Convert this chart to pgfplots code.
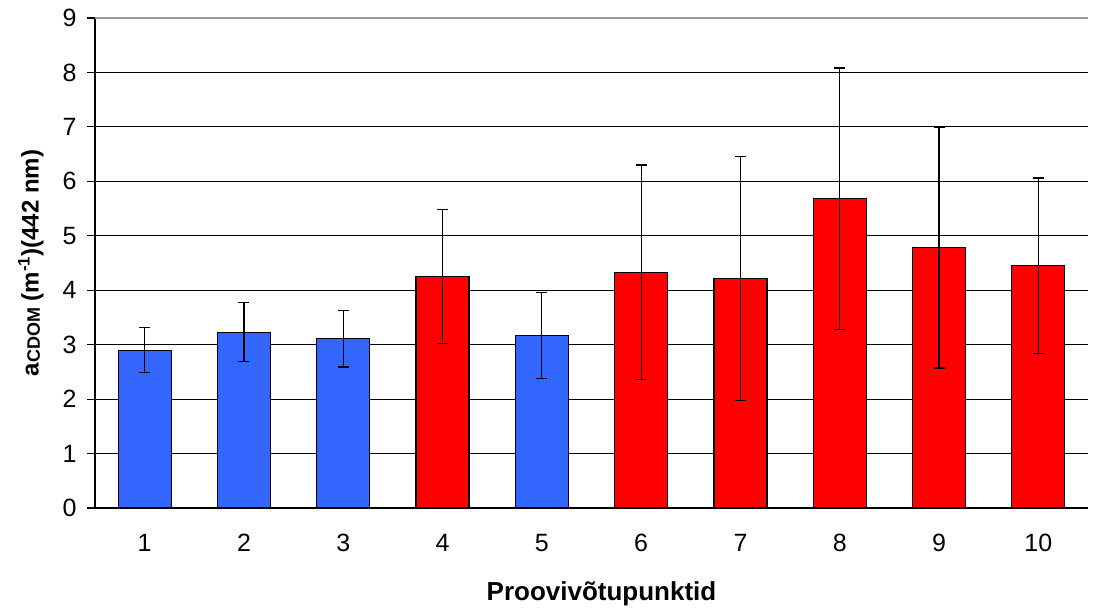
\documentclass[border=0pt]{standalone}
\usepackage{pgfplots}
\pgfplotsset{compat=1.18}
\usepackage{fontspec}
\setmainfont{Liberation Sans}
\definecolor{barblue}{HTML}{3366FF}
\definecolor{barred}{HTML}{FF0000}
\begin{document}
\begin{tikzpicture}
\begin{axis}[
  name=ax,
  scale only axis,
  width=993pt, height=490pt,
  xmin=0.5, xmax=10.5,
  ymin=0, ymax=9,
  ytick={0,1,...,9},
  xtick={1,...,10},
  xticklabels={1,2,3,4,5,6,7,8,9,10},
  axis x line=bottom, axis y line=left,
  axis line style={-, line width=1.2pt, black},
  major x tick style={draw=none},
  extra x ticks={0.5,1.5,...,10.5},
  extra x tick labels={},
  extra x tick style={major tick length=9pt, tick align=outside, tick style={line width=1.2pt, black}, grid=none},
  ytick style={line width=1.2pt, black},
  major tick length=8pt,
  tick align=outside,
  ymajorgrids,
  grid style={line width=1.2pt, black},
  /pgf/number format/assume math mode=true,
  tick label style={font=\fontsize{25}{29}\selectfont},
  xticklabel style={yshift=-15pt},
  yticklabel style={xshift=-7pt},
  xlabel={\textbf{Proovivõtupunktid}},
  ylabel={\textbf{a\raisebox{-0.1ex}{\fontsize{18}{21}\selectfont CDOM} (m\textsuperscript{-1})(442 nm)}},
  xlabel style={font=\fontsize{26}{30}\selectfont, yshift=-6pt, xshift=10pt},
  ylabel style={font=\fontsize{24}{28}\selectfont, yshift=12pt},
  bar width=53pt,
  clip=false,
]
\addplot[ybar, fill=barblue, draw=black, line width=1.2pt,
  error bars/.cd, y dir=both, y explicit,
  error bar style={line width=1.2pt, black},
  error mark options={rotate=90, mark size=5.5pt, line width=1.2pt, black}]
  coordinates {
  (1,2.90) +- (0,0.41)
  (2,3.23) +- (0,0.54)
  (3,3.11) +- (0,0.52)
  (5,3.17) +- (0,0.79)
  };
\addplot[ybar, fill=barred, draw=black, line width=1.2pt,
  error bars/.cd, y dir=both, y explicit,
  error bar style={line width=1.2pt, black},
  error mark options={rotate=90, mark size=5.5pt, line width=1.2pt, black}]
  coordinates {
  (4,4.25) +- (0,1.23)
  (6,4.33) +- (0,1.97)
  (7,4.22) +- (0,2.24)
  (8,5.68) +- (0,2.40)
  (9,4.78) +- (0,2.21)
  (10,4.45) +- (0,1.61)
  };
\draw[gray!80, line width=1.2pt] (axis cs:0.5,9) -- (axis cs:10.5,9);
\end{axis}
\path ([xshift=-95pt,yshift=-92pt]ax.south west) rectangle ++(1102pt,600pt);
\end{tikzpicture}
\end{document}
